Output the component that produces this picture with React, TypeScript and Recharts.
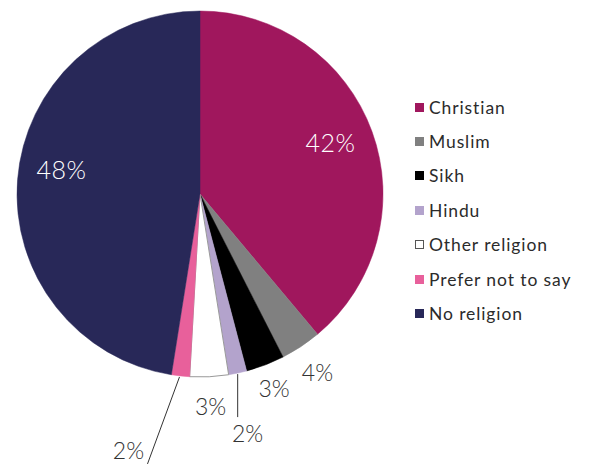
import React from "react";
import { PieChart, Pie, Cell, Legend } from "recharts";

const religions = ["Christian", "Muslim", "Sikh", "Hindu", "Other religion", "Prefer not to say", "No religion"];
const shares = [38.9, 3.6, 3.4, 1.6, 3.4, 1.6, 47.5];
const shareLabels = ["42%", "4%", "3%", "2%", "3%", "2%", "48%"];
const colors = ["#A0175D", "#808080", "#000000", "#B3A3CC", "#FFFFFF", "#E8609B", "#282858"];

const data = religions.map((name, i) => ({ name, value: shares[i], label: shareLabels[i] }));

const RAD = Math.PI / 180;
const FONT = "Lato, 'Open Sans', sans-serif";

function renderLabel(props: any) {
    const { cx, cy, outerRadius, midAngle, index } = props;
    const cos = Math.cos(-midAngle * RAD);
    const sin = Math.sin(-midAngle * RAD);
    const text = shareLabels[index];

    // big slices: label inside
    if (index === 0 || index === 6) {
        const r = outerRadius * 0.77;
        return (
            <text x={cx + r * cos - (index === 0 ? 2 : -2)} y={cy + r * sin - (index === 6 ? 14 : 4)} fill="#fff"
                fontSize={25} fontFamily={FONT} fontWeight={300} letterSpacing={0.5}
                textAnchor="middle" dominantBaseline="central">
                {text}
            </text>
        );
    }

    const sx = cx + outerRadius * cos;
    const sy = cy + outerRadius * sin;

    // tiny slices get a leader line
    if (index === 3) {
        return (
            <g>
                <line x1={sx} y1={sy + 1} x2={sx} y2={sy + 44} stroke="#333" strokeWidth={1} />
                <text x={sx + 10} y={sy + 60} fill="#333" fontSize={23} fontFamily={FONT} fontWeight={300}
                    textAnchor="middle" dominantBaseline="central">{text}</text>
            </g>
        );
    }
    if (index === 5) {
        return (
            <g>
                <line x1={sx - 1} y1={sy + 1} x2={sx - 33} y2={sy + 88} stroke="#333" strokeWidth={1} />
                <text x={sx - 52} y={sy + 74} fill="#333" fontSize={23} fontFamily={FONT} fontWeight={300}
                    textAnchor="middle" dominantBaseline="central">{text}</text>
            </g>
        );
    }

    const extra = index === 1 ? 30 : index === 2 ? 25 : 29;
    const r = outerRadius + extra;
    return (
        <text x={cx + r * cos} y={cy + r * sin} fill="#333" fontSize={23} fontFamily={FONT} fontWeight={300}
            textAnchor="middle" dominantBaseline="central">
            {text}
        </text>
    );
}

function LegendBox() {
    return (
        <div style={{ fontFamily: FONT }}>
            {religions.map((name, i) => (
                <div key={name} style={{ display: "flex", alignItems: "center", height: 34.4 }}>
                    <span
                        style={{
                            width: 9,
                            height: 9,
                            boxSizing: "border-box",
                            background: colors[i],
                            border: i === 4 ? "1px solid #555" : "none",
                            marginRight: 5,
                        }}
                    />
                    <span style={{ fontSize: 17.5, color: "#2b2b2b", letterSpacing: 0.9 }}>{name}</span>
                </div>
            ))}
        </div>
    );
}

export default function App() {
    return (
        <div style={{ position: "absolute", left: 0, top: 0, width: 592, height: 464, background: "#fff" }}>
            <PieChart width={592} height={464} margin={{ top: 0, right: 0, bottom: 0, left: 0 }}>
                <Pie
                    data={data}
                    dataKey="value"
                    nameKey="name"
                    cx={200}
                    cy={194}
                    outerRadius={183}
                    startAngle={90}
                    endAngle={-270}
                    label={renderLabel}
                    labelLine={false}
                    isAnimationActive={false}
                >
                    {data.map((d, i) => (
                        <Cell
                            key={d.name}
                            fill={colors[i]}
                            stroke={i === 4 ? "#999" : colors[i]}
                            strokeWidth={i === 4 ? 1 : 0.5}
                        />
                    ))}
                </Pie>
                <Legend
                    layout="vertical"
                    content={() => <LegendBox />}
                    wrapperStyle={{ left: 415, top: 90, width: 177 }}
                />
            </PieChart>
        </div>
    );
}
